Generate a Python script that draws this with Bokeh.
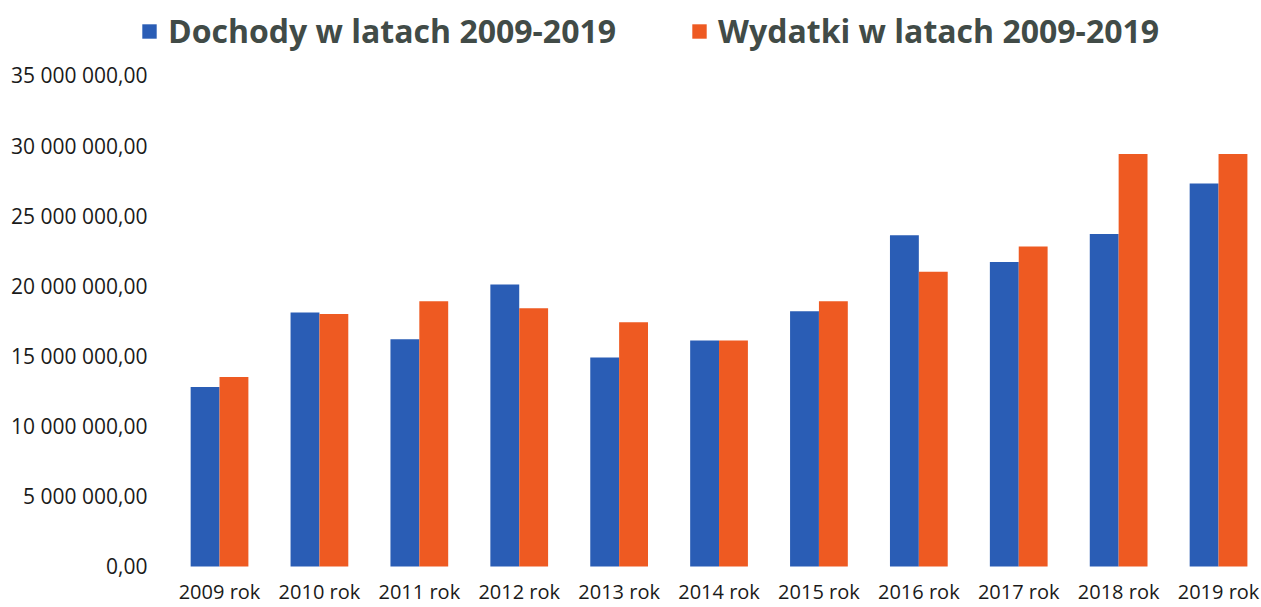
from bokeh.plotting import figure
from bokeh.models import ColumnDataSource, Range1d, FixedTicker, Legend, LegendItem
from bokeh.embed import file_html
from bokeh.resources import INLINE

# ---- data ----
years = ["2009 rok", "2010 rok", "2011 rok", "2012 rok", "2013 rok", "2014 rok",
         "2015 rok", "2016 rok", "2017 rok", "2018 rok", "2019 rok"]
dochody = [12.8e6, 18.1e6, 16.2e6, 20.1e6, 14.9e6, 16.1e6, 18.2e6, 23.6e6, 21.7e6, 23.7e6, 27.3e6]
wydatki = [13.5e6, 18.0e6, 18.9e6, 18.4e6, 17.4e6, 16.1e6, 18.9e6, 21.0e6, 22.8e6, 29.4e6, 29.4e6]
series_names = ["Dochody w latach 2009-2019", "Wydatki w latach 2009-2019"]
y_ticks = [0, 5e6, 10e6, 15e6, 20e6, 25e6, 30e6, 35e6]
y_tick_labels = ["0,00", "5 000 000,00", "10 000 000,00", "15 000 000,00",
                 "20 000 000,00", "25 000 000,00", "30 000 000,00", "35 000 000,00"]

BLUE = "#2a5db5"
ORANGE = "#ee5a22"
FONT = "Open Sans"

idx = list(range(len(years)))
bw = 0.289
source = ColumnDataSource(dict(
    xb=[i - bw / 2 for i in idx],
    xo=[i + bw / 2 for i in idx],
    dochody=dochody,
    wydatki=wydatki,
))

p = figure(width=1261, height=607,
           x_range=Range1d(-0.791, 10.43), y_range=Range1d(-0.214e6, 40.34e6),
           output_backend="svg", toolbar_location=None,
           min_border_left=140, min_border_right=0, min_border_top=0, min_border_bottom=0)

rb = p.vbar(x="xb", top="dochody", width=bw, source=source, color=BLUE, line_color=None)
ro = p.vbar(x="xo", top="wydatki", width=bw, source=source, color=ORANGE, line_color=None)

p.xaxis.ticker = FixedTicker(ticks=idx)
p.xaxis.major_label_overrides = {i: years[i] for i in idx}
p.yaxis.ticker = FixedTicker(ticks=y_ticks)
p.yaxis.major_label_overrides = {t: l for t, l in zip(y_ticks, y_tick_labels)}

for ax in (p.xaxis, p.yaxis):
    ax.axis_line_color = None
    ax.major_tick_line_color = None
    ax.minor_tick_line_color = None
    ax.major_tick_out = 0
    ax.major_tick_in = 0
    ax.minor_tick_out = 0
    ax.major_label_text_font = FONT
    ax.major_label_text_color = "#1a1a1a"
p.xaxis.major_label_text_font_size = "20px"
p.yaxis.major_label_text_font_size = "21px"
p.xaxis.major_label_standoff = 8
p.yaxis.major_label_standoff = -7

p.xgrid.grid_line_color = None
p.ygrid.grid_line_color = None
p.outline_line_color = None

legend = Legend(items=[LegendItem(label=series_names[0], renderers=[rb]),
                       LegendItem(label=series_names[1], renderers=[ro])],
                orientation="horizontal", location=(0, 517),
                glyph_width=18, glyph_height=18, label_standoff=10, spacing=74,
                padding=0, margin=0, border_line_color=None, background_fill_alpha=0,
                label_text_font=FONT, label_text_font_size="32px",
                label_text_font_style="bold", label_text_color="#414b47")
p.add_layout(legend, "center")

open("out.html", "w").write(file_html(p, INLINE))
